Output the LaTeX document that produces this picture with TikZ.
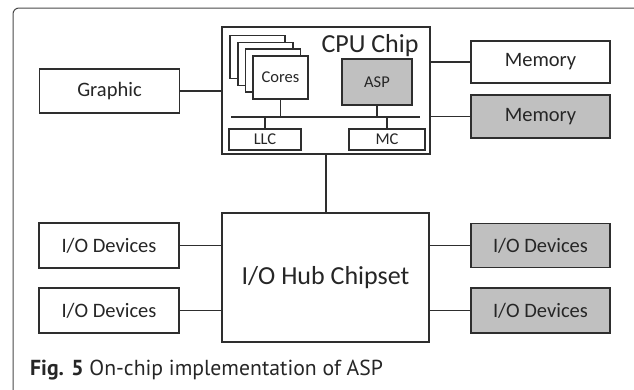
\documentclass[tikz,border=0pt]{standalone}
\usepackage{fontspec}
\setmainfont{Carlito}
\newfontfamily\capfont{PT Sans}
\usepackage{tikz}
\usetikzlibrary{positioning, calc}
\definecolor{boxline}{HTML}{2E2E2E}
\definecolor{aspgray}{HTML}{C0C0C0}
\definecolor{framegray}{HTML}{4A4A4A}
\definecolor{textdark}{HTML}{262626}

\begin{document}
\begin{tikzpicture}[x=1pt, y=-1pt,
    blockbox/.style={draw=boxline, line width=1.7pt, fill=white, text=textdark, inner sep=0pt, font=\fontsize{20.5}{20.5}\selectfont},
    accelbox/.style={blockbox, fill=aspgray},
    smallbox/.style={blockbox, font=\fontsize{16.5}{16.5}\selectfont},
    wire/.style={draw=boxline, line width=1.8pt}]
  \useasboundingbox (0,0) rectangle (634,389);

  % Outer frame (open to the right and bottom)
  \draw[framegray, line width=1pt, rounded corners=6pt] (13,395) -- (13,8) -- (640,8);

  % CPU chip with its inner parts
  \node[blockbox, minimum width=208pt, minimum height=127pt] (cpu) at (326,90.5) {};
  \node[textdark, font=\fontsize{26}{26}\selectfont, anchor=base] (cpulabel) at (370,52) {CPU Chip};

  % Stack of cores, back to front
  \foreach \k in {3,2,1} {
    \node[smallbox, minimum width=55pt, minimum height=43pt] (core\k) at ({280.5-7.6*\k},{77.5-6.8*\k}) {};
  }
  \node[smallbox, minimum width=55pt, minimum height=43pt] (cores) at (280.5,77.5) {Cores};
  \node[smallbox, fill=aspgray, minimum width=70pt, minimum height=46pt] (asp) at (377,82) {ASP};

  % On-chip bus
  \coordinate (busL) at (231,117);
  \coordinate (busR) at (420,117);
  \draw[wire] (busL) -- (busR);

  \node[smallbox, minimum width=72pt, minimum height=21pt] (llc) at (265,139.5) {LLC};
  \node[smallbox, minimum width=76pt, minimum height=21pt] (mc) at (387,139.5) {MC};

  \draw[wire] (cores.south) -- (cores.south |- busL);
  \draw[wire] (asp.south) -- (asp.south |- busL);
  \draw[wire] (llc.north) -- (llc.north |- busL);
  \draw[wire] (mc.north) -- (mc.north |- busL);

  % Graphic and memories
  \node[blockbox, minimum width=140pt, minimum height=44pt] (graphic) at (109.5,91) {Graphic};
  \node[blockbox, minimum width=139pt, minimum height=42pt] (mem1) at (540.5,62) {Memory};
  \node[accelbox, minimum width=139pt, minimum height=43pt] (mem2) at (540.5,116.5) {Memory};

  \draw[wire] (graphic.east) -- (graphic.east -| cpu.west);
  \draw[wire] (cpu.east |- mem1) -- (mem1.west);
  \draw[wire] (cpu.east |- mem2) -- (mem2.west);

  % I/O hub and devices
  \node[blockbox, font=\fontsize{26}{26}\selectfont, minimum width=207pt, minimum height=129pt] (hub) at (325.5,277.5) {I/O Hub Chipset};
  \draw[wire] (cpu.south) -- (cpu.south |- hub.north);

  \node[blockbox, minimum width=140pt, minimum height=45pt] (ioL1) at (109,245.5) {I/O Devices};
  \node[blockbox, minimum width=140pt, minimum height=45pt] (ioL2) at (109,310.5) {I/O Devices};
  \node[accelbox, minimum width=139pt, minimum height=44pt] (ioR1) at (540.5,245.5) {I/O Devices};
  \node[accelbox, minimum width=139pt, minimum height=45pt] (ioR2) at (540.5,310.5) {I/O Devices};

  \draw[wire] (ioL1.east) -- (ioL1.east -| hub.west);
  \draw[wire] (ioL2.east) -- (ioL2.east -| hub.west);
  \draw[wire] (hub.east |- ioR1) -- (ioR1.west);
  \draw[wire] (hub.east |- ioR2) -- (ioR2.west);

  % Caption
  \node[anchor=base west, inner sep=0pt, textdark, font=\capfont\fontsize{21.7}{21.7}\selectfont] (caption) at (30,375) {\textbf{Fig. 5} On-chip implementation of ASP};
\end{tikzpicture}
\end{document}
